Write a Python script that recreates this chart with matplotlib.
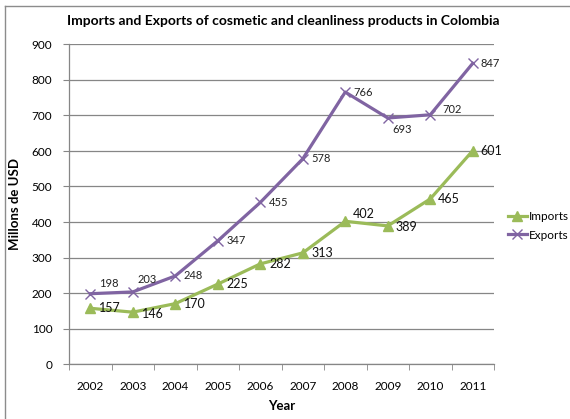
import matplotlib
matplotlib.use("Agg")
import matplotlib.pyplot as plt
import numpy as np
from matplotlib.lines import Line2D

plt.rcParams['font.family'] = ['Lato', 'DejaVu Sans']

years = ['2002', '2003', '2004', '2005', '2006', '2007', '2008', '2009', '2010', '2011']
imports = [157, 146, 170, 225, 282, 313, 402, 389, 465, 601]
exports = [198, 203, 248, 347, 455, 578, 766, 693, 702, 847]

# label offsets in pixels (dx, dy)
imp_off = [(9, 0), (9, -2), (9, 0), (9, 0), (9, 0), (9, 0), (8, 7), (8, -1), (8, 0), (8, 0)]
exp_off = [(9, 10), (5, 12), (8, 0), (9, 0), (9, 0), (9, 0), (8, 0), (5, -12), (12, 5), (8, 0)]

green = '#9BBB59'
purple = '#8064A2'
grid_c = '#868686'

fig = plt.figure(figsize=(5.70, 4.19), dpi=100)
ax = fig.add_axes([69 / 570, 1 - 364 / 419, (494 - 69) / 570, (364 - 44.5) / 419])

x = np.arange(len(years))

ax.plot(x, exports, color=purple, lw=2.3, marker='x', ms=7.5, mew=1.0, zorder=3,
        solid_joinstyle='round')
ax.plot(x, imports, color=green, lw=2.3, marker='^', ms=7, zorder=3,
        solid_joinstyle='round')

for xi, v, (dx, dy) in zip(x, exports, exp_off):
    ax.annotate(str(v), (xi, v), xytext=(dx, dy), textcoords='offset pixels',
                ha='left', va='center', fontsize=8, color='#222222')
for xi, v, (dx, dy) in zip(x, imports, imp_off):
    ax.annotate(str(v), (xi, v), xytext=(dx, dy), textcoords='offset pixels',
                ha='left', va='center', fontsize=9, color='#111111')

ax.set_xlim(-0.5, len(years) - 0.5)
ax.set_ylim(0, 900)
ax.set_yticks(range(0, 901, 100))
ax.set_xticks(x)
ax.set_xticklabels(years)
ax.set_xticks(np.arange(-0.5, len(years), 1.0), minor=True)
ax.tick_params(axis='x', which='major', length=0, pad=12, labelsize=8.5)
ax.tick_params(axis='x', which='minor', length=4, color=grid_c, direction='out')
ax.tick_params(axis='y', length=4, color=grid_c, labelsize=8.5, pad=8)
ax.grid(axis='y', color=grid_c, lw=0.9)
ax.set_axisbelow(True)
for s in ['top', 'right']:
    ax.spines[s].set_visible(False)
for s in ['left', 'bottom']:
    ax.spines[s].set_color(grid_c)
    ax.spines[s].set_linewidth(0.9)

ax.set_ylabel('Millons de USD', fontsize=9.5, fontweight='bold', labelpad=8)
ax.set_xlabel('Year', fontsize=9.5, fontweight='bold', labelpad=6)
fig.text(283 / 570, 1 - 21 / 419, 'Imports and Exports of cosmetic and cleanliness products in Colombia',
         ha='center', va='center', fontsize=10, fontweight='bold')

handles = [Line2D([], [], color=green, lw=2.3, marker='^', ms=7),
           Line2D([], [], color=purple, lw=2.3, marker='x', ms=7.5, mew=1.0)]
fig.legend(handles, ['Imports', 'Exports'], loc='center left',
           bbox_to_anchor=(503 / 570, 1 - 226 / 419), frameon=False, fontsize=8.5,
           handlelength=1.6, handletextpad=0.2, labelspacing=0.6, borderaxespad=0)

# outer chart frame (top and left edges)
fig.add_artist(Line2D([5 / 570, 1], [1 - 6 / 419, 1 - 6 / 419], color='#8c8c8c', lw=1.0))
fig.add_artist(Line2D([5 / 570, 5 / 570], [0, 1 - 6 / 419], color='#8c8c8c', lw=1.0))

fig.savefig('out.png', dpi=100)
